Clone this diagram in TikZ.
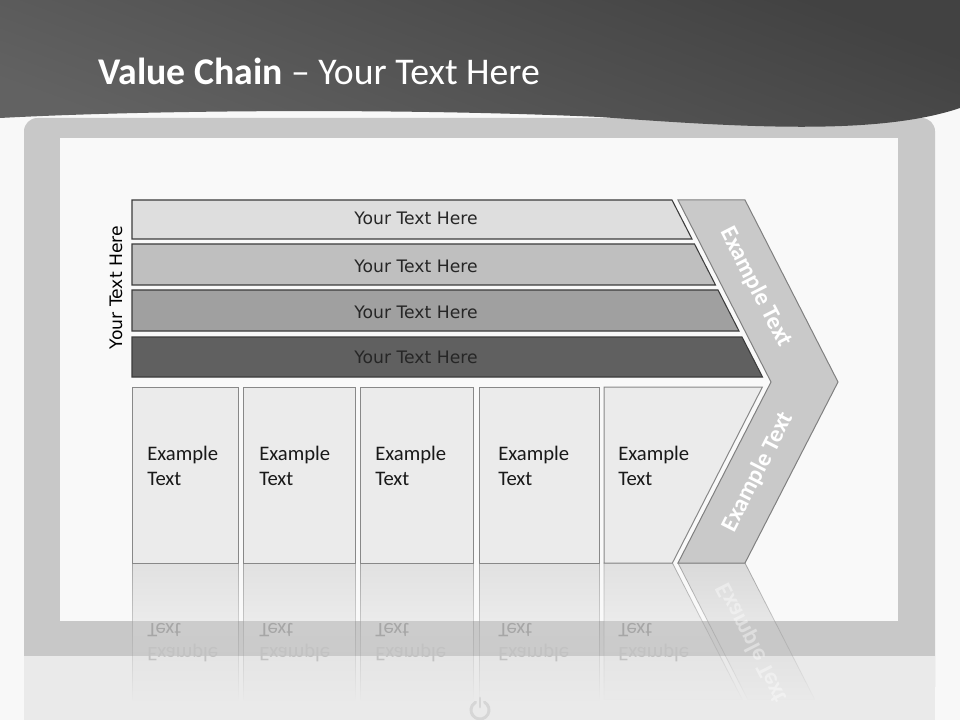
\documentclass[tikz,border=0pt]{standalone}
\usepackage{fontspec}
\setmainfont{Carlito}
\newfontfamily\dejavu{DejaVu Sans}
\usetikzlibrary{fadings}
\definecolor{bgc}{HTML}{F8F8F8}
\definecolor{framec}{HTML}{C8C8C8}
\definecolor{screenc}{HTML}{F9F9F9}
\definecolor{lowc}{HTML}{EAEAEA}
\definecolor{barA}{HTML}{DEDEDE}
\definecolor{barB}{HTML}{BFBFBF}
\definecolor{barC}{HTML}{A0A0A0}
\definecolor{barD}{HTML}{606060}
\definecolor{barline}{HTML}{3C3C3C}
\definecolor{boxc}{HTML}{EBEBEB}
\definecolor{boxline}{HTML}{888888}
\definecolor{chevc}{HTML}{C9C9C9}
\definecolor{chevline}{HTML}{808080}
\definecolor{txtc}{HTML}{262626}
\definecolor{iconc}{HTML}{D6D6D6}
\definecolor{banTop}{HTML}{424242}
\definecolor{banBot}{HTML}{626262}
\tikzfading[name=reflfade, top color=transparent!35, bottom color=transparent!100]
\tikzset{
  barshape/.style={draw=barline, line width=0.8pt},
  boxshape/.style={fill=boxc, draw=boxline, line width=0.75pt},
  reflbox/.style={fill=boxc!80!gray, draw=boxline, line width=0.6pt, path fading=reflfade},
  bartext/.style={font=\dejavu\fontsize{12.9}{14}\selectfont, text=txtc, anchor=base, inner sep=0pt},
  extext/.style={font=\fontsize{15.5}{18.75}\selectfont, text=black!90, anchor=base west, inner sep=0pt},
  flipA/.style={font=\fontsize{15.5}{18}\selectfont, anchor=base west, inner sep=0pt, yscale=-1},
  chevtext/.style={font=\bfseries\fontsize{18}{20}\selectfont, text=white, inner sep=0pt},
}
\begin{document}
\begin{tikzpicture}[x=0.75pt,y=-0.75pt]
\useasboundingbox (0,0) rectangle (960,720);
\fill[bgc] (0,0) rectangle (960,720);
% monitor frame
\fill[framec, rounded corners=10pt] (24,700) rectangle (935,118);
\fill[lowc] (24,656) rectangle (935,720);
\fill[screenc] (60,138) rectangle (898,621);
% reflections
\path[reflbox] (132,563) rectangle (238,700);
\path[reflbox] (243,563) rectangle (355,700);
\path[reflbox] (360,563) rectangle (473,700);
\path[reflbox] (479,563) rectangle (599,700);
\path[reflbox] (604,563) -- (672.4,563) -- (742.5,700) -- (604,700) -- cycle;
\path[fill=chevc, draw=chevline, line width=0.6pt, path fading=reflfade] (678,563) -- (745,563) -- (815,700) -- (748,700) -- cycle;
\foreach \xx/\nm in {147/a,259/b,375/c,498/d,618/e}{
  \node[flipA, text=black!35] (rt\nm) at (\xx,623) {Text};
  \node[flipA, text=black!24] (re\nm) at (\xx,647) {Example};
}
\node[chevtext, text opacity=0.4, rotate=-62.94, yscale=-1] (rchev) at (752,643) {Example Text};
% power icon
\draw[iconc, line width=2.2pt, line cap=round] (480,710) ++(300:9) arc[start angle=300, end angle=600, radius=9];
\draw[iconc, line width=2.2pt, line cap=round] (480,698) -- (480,707);
% banner
\shade[top color=banTop, bottom color=banBot, shading angle=-20] (0,0) -- (960,0) -- (960,108)
  .. controls (880,135) and (750,128) .. (600,117)
  .. controls (400,108) and (150,110) .. (0,118) -- cycle;
\node[anchor=base west, inner sep=0pt, text=white, font=\fontsize{28.3}{30}\selectfont] (title) at (98,85) {\textbf{Value Chain} – Your Text Here};
% bars
\path[barshape, fill=barA] (132,200) -- (672,200) -- (692,239) -- (132,239) -- cycle;
\path[barshape, fill=barB] (132,244) -- (694.5,244) -- (715.5,285) -- (132,285) -- cycle;
\path[barshape, fill=barC] (132,290) -- (718,290) -- (739,331) -- (132,331) -- cycle;
\path[barshape, fill=barD] (132,337) -- (742,337) -- (762.5,377) -- (132,377) -- cycle;
\node[bartext] (b1) at (416,225) {Your Text Here};
\node[bartext] (b2) at (416,273) {Your Text Here};
\node[bartext] (b3) at (416,318) {Your Text Here};
\node[bartext] (b4) at (416,363) {Your Text Here};
\node[bartext, text=black, rotate=90] (side) at (122,287.5) {Your Text Here};
% boxes
\path[boxshape] (132,387) rectangle (238,563);
\path[boxshape] (243,387) rectangle (355,563);
\path[boxshape] (360,387) rectangle (473,563);
\path[boxshape] (479,387) rectangle (599,563);
\path[boxshape] (604,387) -- (762.4,387) -- (672.4,563) -- (604,563) -- cycle;
\foreach \xx/\nm in {147/a,259/b,375/c,498/d,618/e}{
  \node[extext] (e\nm) at (\xx,460) {Example};
  \node[extext] (t\nm) at (\xx,485) {Text};
}
% chevron
\path[fill=chevc, draw=chevline, line width=0.75pt] (678,200) -- (745,200) -- (838,382) -- (745,563) -- (678,563) -- (771,382) -- cycle;
\node[chevtext, rotate=-62.94] (c1) at (756,287) {Example Text};
\node[chevtext, rotate=62.94] (c2) at (758,472) {Example Text};
\end{tikzpicture}
\end{document}
